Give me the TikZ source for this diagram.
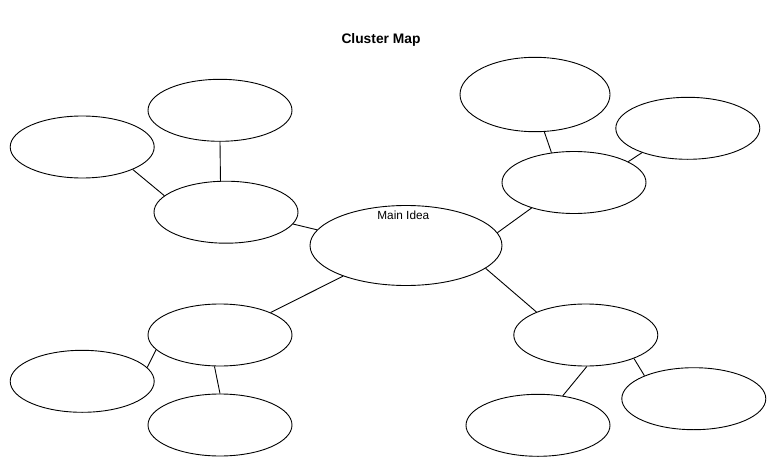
\documentclass[tikz,border=0pt]{standalone}
\usepackage{fontspec}
\setmainfont{Liberation Sans}
\usetikzlibrary{shapes.geometric}
\begin{document}
\begin{tikzpicture}[x=1pt,y=-1pt,
  bubble/.style={ellipse,draw=black,line width=0.9pt,inner sep=0pt,minimum width=144pt,minimum height=62pt},
  link/.style={draw=black,line width=0.9pt}]
\useasboundingbox[fill=white] (0,0) rectangle (772,471);
\node[font=\fontsize{13.8}{16}\selectfont\bfseries] (title) at (381,39.5) {Cluster Map};
% main
\node[bubble,minimum width=192pt,minimum height=80pt] (main) at (406,245.5) {};
\node[font=\fontsize{11.8}{14}\selectfont] (mainlabel) at (403.3,215.7) {Main Idea};
% upper left
\node[bubble] (ulhub) at (226,212.2) {};
\node[bubble] (ultop) at (220,110.3) {};
\node[bubble] (ulleft) at (82.2,147) {};
% upper right
\node[bubble] (urhub) at (574,182.5) {};
\node[bubble,minimum width=150pt,minimum height=74.4pt] (urtop) at (535,94.5) {};
\node[bubble] (urright) at (687.8,128.3) {};
% lower left
\node[bubble] (llhub) at (220,335) {};
\node[bubble] (llleft) at (82.2,381.3) {};
\node[bubble] (llbottom) at (220,425) {};
% lower right
\node[bubble] (lrhub) at (585.8,335) {};
\node[bubble] (lrright) at (693.8,398.7) {};
\node[bubble] (lrbottom) at (538,425.3) {};
% connectors
\path[link] (main.170.9) -- (ulhub.-10.3);
\path[link] (main.8.5) -- (urhub.-149.6);
\path[link] (main.-154.1) -- (llhub.24);
\path[link] (main.-16.1) -- (lrhub.155.3);
\path[link] (ulhub.100.4) -- (ultop.-90);
\path[link] (ulhub.165.6) -- (ulleft.-24.9);
\path[link] (urhub.127.1) -- (urtop.-76.3);
\path[link] (urhub.21.6) -- (urright.-152.6);
\path[link] (llhub.-167.2) -- (llleft.12.1);
\path[link] (llhub.-100.2) -- (llbottom.90);
\path[link] (lrhub.-26.8) -- (lrright.155);
\path[link] (lrhub.-88.4) -- (lrbottom.50.8);
\end{tikzpicture}
\end{document}
